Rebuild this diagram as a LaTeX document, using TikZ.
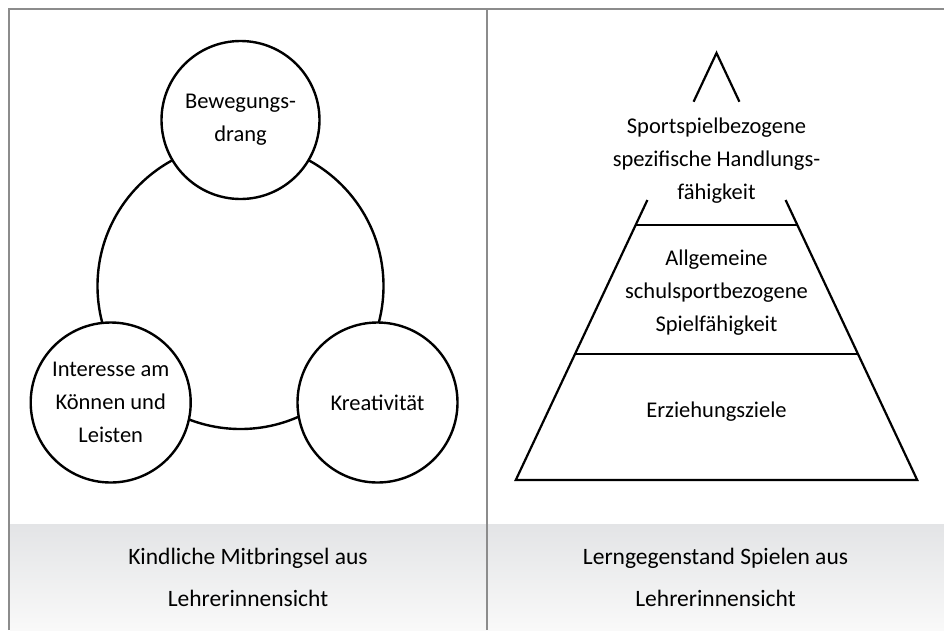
\documentclass[tikz,border=0pt]{standalone}
\usepackage{fontspec}
\setmainfont{Carlito}
\definecolor{framegray}{HTML}{8C8C8C}
\definecolor{bandtop}{HTML}{E3E4E6}
\definecolor{bandbot}{HTML}{F9F9F9}
\begin{document}
\begin{tikzpicture}[x=1pt,y=-1pt,
  frameline/.style={draw=framegray,line width=1.6pt},
  ring/.style={circle,draw=black,line width=2.4pt,fill=white,inner sep=0pt,minimum size=#1},
  txt/.style={align=center,font=\fontsize{22.5}{33}\selectfont},
  captxt/.style={align=center,font=\fontsize{23.5}{42}\selectfont},
  pyr/.style={draw=black,line width=2.2pt}]
\useasboundingbox (0,0) rectangle (944,630);
% bottom band
\shade[top color=bandtop,bottom color=bandbot] (10,524) rectangle (944,630);
% frame
\draw[frameline] (9,630) -- (9,9) -- (944,9);
\draw[frameline] (487,9) -- (487,630);
% left panel: circles
\node[ring=286pt] (big) at (240.5,286) {};
\node[ring=158pt,txt] (bew) at (240.5,120) {Bewegungs-\\drang};
\node[ring=160pt,txt] (int) at (110.7,402.5) {Interesse am\\Können und\\Leisten};
\node[ring=160pt,txt] (kre) at (377.5,402.5) {Kreativität};
% right panel: pyramid
\coordinate (apex) at (716.5,53);
\coordinate (tl) at (693.6,101.7);
\coordinate (tr) at (739.4,101.7);
\coordinate (ul) at (647.4,200);
\coordinate (ur) at (785.6,200);
\coordinate (al) at (635.7,225);
\coordinate (ar) at (797.3,225);
\coordinate (ml) at (575,354.3);
\coordinate (mr) at (858,354.3);
\coordinate (bl) at (515.8,480);
\coordinate (br) at (917.2,480);
\draw[pyr] (tl) -- (apex) -- (tr);
\draw[pyr] (ul) -- (bl) -- (br) -- (ur);
\draw[pyr] (al) -- (ar);
\draw[pyr] (ml) -- (mr);
\node[txt] (sp) at (716.5,161) {Sportspielbezogene\\spezifische Handlungs-\\fähigkeit};
\node[txt] (al2) at (716.5,292.5) {Allgemeine\\schulsportbezogene\\Spielfähigkeit};
\node[txt] (erz) at (716.5,412) {Erziehungsziele};
% captions
\node[captxt] (capl) at (248,577) {Kindliche Mitbringsel aus\\Lehrerinnensicht};
\node[captxt] (capr) at (715.5,577) {Lerngegenstand Spielen aus\\Lehrerinnensicht};
\end{tikzpicture}
\end{document}
